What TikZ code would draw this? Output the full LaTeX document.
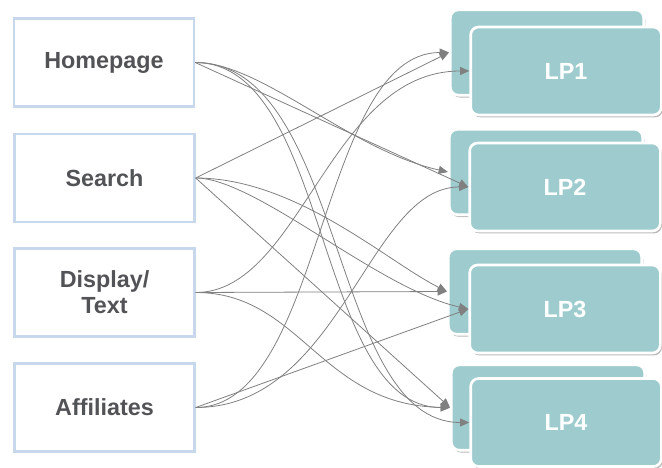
\documentclass[tikz,border=0pt]{standalone}
\usepackage{fontspec}
\setmainfont{Liberation Sans}
\usetikzlibrary{arrows.meta,shadows}
\definecolor{tealc}{RGB}{158,204,206}
\definecolor{srcborder}{RGB}{200,216,236}
\definecolor{txtgray}{RGB}{82,83,86}
\definecolor{linegray}{RGB}{128,128,128}
\begin{document}
\begin{tikzpicture}[x=0.75pt,y=-0.75pt,
  srcbox/.style={draw=srcborder,line width=1.8pt,fill=white,minimum width=135pt,
    minimum height=66pt,inner sep=0pt,align=center,text=txtgray,
    font=\fontsize{17.5}{19.5}\selectfont\bfseries},
  lpback/.style={fill=tealc,draw=white,line width=2pt,rounded corners=6pt,
    minimum width=145pt,minimum height=64pt,inner sep=0pt,
    drop shadow={shadow xshift=1.2pt,shadow yshift=-1.8pt,fill=black!50,opacity=.55}},
  lpfront/.style={lpback,minimum width=143pt,minimum height=66pt,text=white,
    font=\fontsize{17.5}{19.5}\selectfont\bfseries},
  conn/.style={draw=linegray,line width=0.6pt,-{Triangle[length=7pt,width=6pt]}}]
\useasboundingbox (0,0) rectangle (662,468);
% sources
\node[srcbox] (H) at (104,62.5) {Homepage};
\node[srcbox] (S) at (104.5,178) {Search};
\node[srcbox] (D) at (104.5,292.5) {Display/\\Text};
\node[srcbox] (A) at (104.5,407.5) {Affiliates};
% landing pages
\node[lpback] (L1b) at (547,52.5) {};
\node[lpfront] (L1f) at (566,71) {LP1};
\node[lpback] (L2b) at (546,172) {};
\node[lpfront] (L2f) at (565,187) {LP2};
\node[lpback] (L3b) at (545,291.5) {};
\node[lpfront] (L3f) at (565,309) {LP3};
\node[lpback] (L4b) at (548,407.5) {};
\node[lpfront] (L4f) at (566,422.5) {LP4};
% connectors
\draw[conn] (H.east) .. controls +(67,0) and +(-99,-22) .. (L2b.west);
\draw[conn] (H.east) -- (L2f.west);
\draw[conn] (H.east) .. controls +(135,0) and +(-135,0) .. (L4b.west);
\draw[conn] (H.east) .. controls +(150,0) and +(-140,0) .. (L4f.west);
\draw[conn] (S.east) -- (L1b.west);
\draw[conn] (S.east) .. controls +(100,0) and +(-60,-30) .. (L3b.west);
\draw[conn] (S.east) .. controls +(60,0) and +(-90,-20) .. (L3f.west);
\draw[conn] (S.east) -- (L4b.west);
\draw[conn] (D.east) .. controls +(105,0) and +(-140,0) .. (L1f.west);
\draw[conn] (D.east) -- (L3b.west);
\draw[conn] (D.east) .. controls +(105,0) and +(-130,-2) .. (L4b.west);
\draw[conn] (A.east) .. controls +(128,0) and +(-130,0) .. (L1b.west);
\draw[conn] (A.east) .. controls +(145,0) and +(-100,0) .. (L2f.west);
\draw[conn] (A.east) -- (L3f.west);
\end{tikzpicture}
\end{document}
